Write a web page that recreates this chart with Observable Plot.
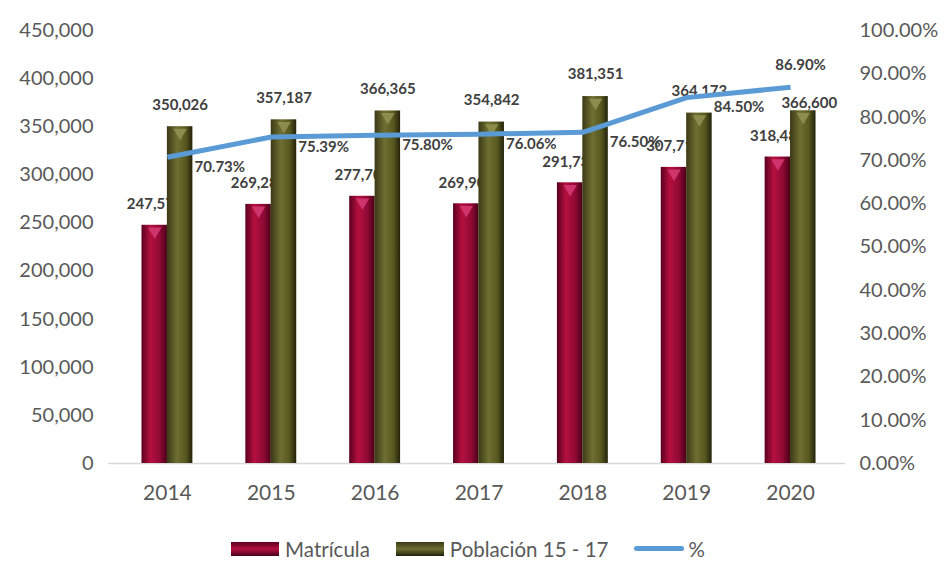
<!DOCTYPE html>
<html><head><meta charset="utf-8">
<script src="https://cdn.jsdelivr.net/npm/d3@7"></script>
<script src="https://cdn.jsdelivr.net/npm/@observablehq/plot@0.6"></script>
<style>
body{margin:0;background:#fff;font-family:Lato,"Open Sans",sans-serif;}
#chart{width:950px;height:520px;}
#legend{display:flex;justify-content:center;align-items:center;height:57px;font-size:20.5px;color:#595959;padding-right:14px;box-sizing:border-box;}
.item{display:flex;align-items:center;margin:0 13px;}
.sw{width:48px;height:14px;margin-right:6px;}
.ln{width:50px;height:5px;background:#5b9bd5;border-radius:3px;margin-right:4px;}
</style></head><body>
<svg width="0" height="0" style="position:absolute"><defs>
<linearGradient id="gRed" x1="0" x2="1" y1="0" y2="0">
 <stop offset="0" stop-color="#5a001e"/>
 <stop offset="0.35" stop-color="#b5103f"/>
 <stop offset="0.7" stop-color="#920a35"/>
 <stop offset="1" stop-color="#4a0018"/>
</linearGradient>
<linearGradient id="gOlive" x1="0" x2="1" y1="0" y2="0">
 <stop offset="0" stop-color="#3a3a16"/>
 <stop offset="0.4" stop-color="#6f6f33"/>
 <stop offset="0.75" stop-color="#56561f"/>
 <stop offset="1" stop-color="#22220b"/>
</linearGradient>
</defs></svg>
<div id="chart"></div>
<div id="legend">
 <div class="item"><div class="sw" style="background:linear-gradient(#5a001e,#b5103f,#4a0018)"></div>Matrícula</div>
 <div class="item"><div class="sw" style="background:linear-gradient(#3a3a16,#6f6f33,#22220b)"></div>Población 15 - 17</div>
 <div class="item"><div class="ln"></div>%</div>
</div>
<script>
const years = ["2014","2015","2016","2017","2018","2019","2020"];
const matricula = [247576, 269287, 277704, 269901, 291734, 307717, 318488];
const poblacion = [350026, 357187, 366365, 354842, 381351, 364173, 366600];
const pct = [70.73, 75.39, 75.80, 76.06, 76.50, 84.50, 86.90];
const leftTicks = [0,50000,100000,150000,200000,250000,300000,350000,400000,450000];
const pctTicks = [0,10,20,30,40,50,60,70,80,90,100];

const data = years.map((y,i) => ({year:y, mat:matricula[i], pob:poblacion[i], pct:pct[i]}));
const PMAX = 450000;
const toY = p => p / 100 * PMAX;
const fmt = d3.format(",");
const half = 25.4;

const chart = Plot.plot({
  width: 950, height: 520,
  marginLeft: 108, marginRight: 105, marginTop: 30, marginBottom: 57,
  style: {fontFamily: "Lato, 'Open Sans', sans-serif", background: "#fff"},
  x: {domain: years, range: [115, 842], paddingInner: 0.51, paddingOuter: 0.255, round: false},
  y: {domain: [0, PMAX]},
  marks: [
    Plot.axisY({ticks: leftTicks, tickFormat: fmt, tickSize: 0, tickPadding: 15, fontSize: 20, color: "#595959", label: null}),
    Plot.axisY({anchor: "right", ticks: pctTicks.map(toY), tickFormat: d => (d / PMAX * 100).toFixed(2) + "%", tickSize: 0, tickPadding: 14, fontSize: 20, color: "#595959", label: null}),
    Plot.axisX({tickSize: 0, tickPadding: 22, fontSize: 21, color: "#595959", label: null}),
    Plot.ruleY([0], {stroke: "#d9d9d9", strokeWidth: 1.5}),
    Plot.barY(data, {x: "year", y: "mat", fill: "url(#gRed)", insetRight: half}),
    Plot.dot(data, {x: "year", y: "mat", dx: -half/2, dy: 6, symbol: "triangle", rotate: 180, r: 5, fill: "#d0346c", stroke: "none"}),
    Plot.text(data, {x: "year", y: "mat", text: d => fmt(d.mat), dx: -half/2, dy: -21, fontSize: 15, fontWeight: "bold", fill: "#404040"}),
    Plot.barY(data, {x: "year", y: "pob", fill: "url(#gOlive)", insetLeft: half}),
    Plot.dot(data, {x: "year", y: "pob", dx: half/2, dy: 6, symbol: "triangle", rotate: 180, r: 5, fill: "#8c8c4c", stroke: "none"}),
    Plot.text(data.slice(0, -1), {x: "year", y: "pob", text: d => fmt(d.pob), dx: half/2, dy: -22, fontSize: 15, fontWeight: "bold", fill: "#404040"}),
    Plot.lineY(data, {x: "year", y: d => toY(d.pct), stroke: "#5b9bd5", strokeWidth: 5, strokeLinejoin: "round", strokeLinecap: "butt"}),
    Plot.text(data.slice(-1), {x: "year", y: "pob", text: d => fmt(d.pob), dx: half/2 + 6, dy: -8, fontSize: 15, fontWeight: "bold", fill: "#404040"}),
    Plot.text(data.slice(0, -1), {x: "year", y: d => toY(d.pct), text: d => d.pct.toFixed(2) + "%", dx: 27, dy: 10, textAnchor: "start", fontSize: 15, fontWeight: "bold", fill: "#404040"}),
    Plot.text(data.slice(-1), {x: "year", y: d => toY(d.pct), text: d => d.pct.toFixed(2) + "%", dx: 10, dy: -22, fontSize: 15, fontWeight: "bold", fill: "#404040"})
  ]
});
document.getElementById("chart").appendChild(chart);
</script>
</body></html>
